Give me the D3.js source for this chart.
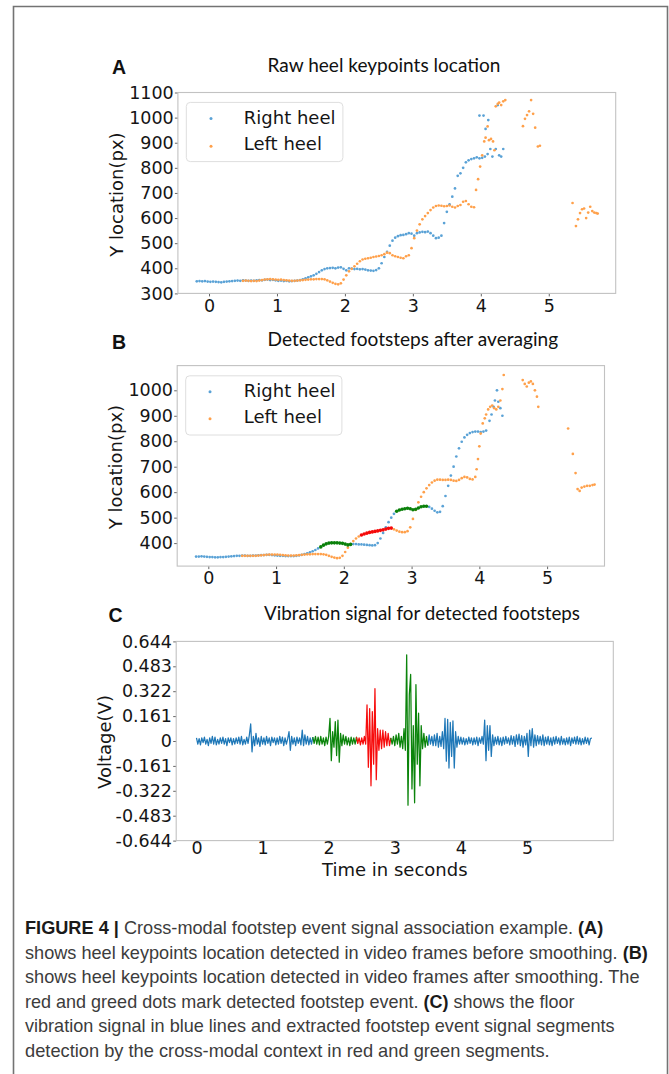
<!DOCTYPE html>
<html><head><meta charset="utf-8">
<script src="https://cdn.jsdelivr.net/npm/d3@7/dist/d3.min.js"></script>
<style>html,body{margin:0;padding:0;background:#fff}svg{display:block}</style>
</head><body>
<svg id="c" width="669" height="1074"></svg>
<script>
// ---------------- DATA ----------------
const heelStep = 0.04;           // seconds between video frames used
const xTicks = [0, 1, 2, 3, 4, 5];
const yTicksA = [300, 400, 500, 600, 700, 800, 900, 1000, 1100];
const yTicksB = [400, 500, 600, 700, 800, 900, 1000];
const yTicksC = [0.644, 0.483, 0.322, 0.161, 0, -0.161, -0.322, -0.483, -0.644];
const yTickLabelsC = ["0.644", "0.483", "0.322", "0.161", "0", "-0.161", "-0.322", "-0.483", "-0.644"];
const seriesNames = ["Right heel", "Left heel"];

// Panel A: raw heel keypoints (Y location, px)
const rightHeelA_t0 = -0.18;
const rightHeelA = [
  348,349,348,349,347,346,347,346,345,344,
  346,347,348,349,350,351,350,352,351,350,
  351,350,352,353,352,354,355,353,354,352,
  350,351,349,350,348,349,350,351,353,356,
  360,364,368,372,378,385,392,397,400,401,
  402,400,403,404,398,392,400,399,397,398,
  396,397,395,392,391,390,393,400,420,445,
  465,490,510,522,528,532,533,536,540,538,
  530,540,543,545,544,546,540,530,520,522,
  530,580,625,655,685,718,768,778,800,822,
  830,835,838,842,838,840,845,855
];
const rightHeelA_extraT = [3.98, 4.04, 4.07, 4.11, 4.14, 4.17, 4.22, 4.25, 4.27, 4.30, 4.33];
const rightHeelA_extraY = [1008, 1008, 955, 990, 875, 845, 875, 1050, 850, 845, 875];

const leftHeelA_t0 = 0.50;
const leftHeelA = [
  350,351,350,349,350,349,351,353,355,356,
  357,356,355,354,355,353,352,351,350,350,
  351,352,353,354,355,356,356,357,357,357,
  356,352,347,342,338,336,340,355,372,388,
  398,408,418,428,435,438,440,442,445,447,
  449,452,456,462,460,452,448,445,442,440,
  448,452,480,520,550,575,595,608,620,632,
  642,648,650,649,647,648,650,645,642,648,
  652,665,668,655,645,643
];
const leftHeelA_extraT = [3.93, 3.96, 3.99, 4.02, 4.05, 4.07, 4.10, 4.12, 4.15, 4.18, 4.20, 4.22, 4.25, 4.27, 4.30, 4.33, 4.36,
  4.62, 4.65, 4.68, 4.71, 4.74, 4.77, 4.80, 4.84, 4.87,
  5.35, 5.40, 5.43, 5.46, 5.49, 5.52, 5.55, 5.58, 5.61, 5.64, 5.67, 5.70, 5.72];
const leftHeelA_extraY = [712, 755, 805, 850, 905, 920, 965, 910, 915, 905, 870, 1045, 1055, 1060, 1050, 1065, 1070,
  966, 995, 1010, 1025, 1070, 1015, 960, 885, 888,
  660, 568, 595, 620, 635, 638, 600, 622, 645, 628, 622, 620, 618];

// Panel B: heel keypoints after averaging
const rightHeelB_t0 = -0.18;
const rightHeelB = [
  347,347,348,347,346,345,345,344,344,345,
  345,346,347,348,349,350,350,351,351,350,
  350,351,351,352,353,353,354,354,353,352,
  351,350,350,349,349,349,349,350,352,354,
  357,360,364,368,373,379,385,392,397,400,
  401,401,401,400,399,396,393,395,396,396,
  395,395,394,393,392,391,392,400,418,440,
  462,482,500,515,525,530,533,535,537,535,
  531,533,538,543,545,545,542,535,527,521,
  523,545,585,625,665,700,740,772,798,815,
  825,832,836,838,838,836,838,842
];
const rightHeelB_extraT = [4.15, 4.18, 4.21, 4.23, 4.26, 4.28, 4.31, 4.34];
const rightHeelB_extraY = [880, 905, 935, 960, 1000, 955, 930, 900];

const leftHeelB_t0 = 0.50;
const leftHeelB = [
  350,350,350,350,350,350,351,352,353,354,
  355,355,355,355,354,353,352,351,351,351,
  352,353,354,355,356,356,357,357,357,357,
  356,354,350,346,343,341,342,350,365,382,
  396,408,418,426,432,436,439,442,444,446,
  448,450,452,455,458,459,454,449,445,443,
  443,447,462,495,530,560,582,600,615,628,
  638,645,649,649,648,648,649,648,645,644,
  648,655,660,658,652,650,660
];
const leftHeelB_extraT = [3.96, 3.98, 4.00, 4.02, 4.05, 4.08, 4.10, 4.13, 4.16, 4.19, 4.22, 4.25, 4.28, 4.31, 4.34, 4.36,
  4.64, 4.67, 4.70, 4.73, 4.76, 4.79, 4.82, 4.85, 4.87,
  5.31, 5.38, 5.42, 5.45, 5.48, 5.51, 5.55, 5.59, 5.63, 5.67, 5.70];
const leftHeelB_extraY = [690, 730, 780, 830, 870, 890, 905, 925, 935, 940, 930, 925, 935, 960, 1005, 1060,
  1040, 1025, 1015, 1030, 1035, 1025, 1000, 975, 935,
  850, 750, 675, 612, 605, 618, 622, 625, 625, 628, 630];

// Detected footsteps (seconds) in the video
const footstepsRight = [[1.64, 2.10], [2.76, 3.24]];
const footstepsLeft = [[2.24, 2.70]];

// Panel C: floor vibration signal (V)
const vibStep = 0.02;
const vibration = [
  0.02,-0.02,0.015,-0.025,0.02,-0.01,0.025,-0.02,0.01,-0.03,
  0.02,-0.015,0.03,-0.02,0.025,-0.025,0.01,-0.02,0.02,-0.015,
  0.025,-0.02,0.015,-0.03,0.02,-0.01,0.02,-0.025,0.015,-0.02,
  0.02,-0.015,0.025,-0.02,0.03,-0.025,0.01,-0.02,0.025,-0.015,
  0.04,0.11,-0.07,0.03,-0.03,0.05,-0.02,0.02,-0.035,0.03,
  -0.02,0.02,-0.025,0.03,-0.015,0.02,-0.03,0.025,-0.01,0.02,
  -0.025,0.02,-0.02,0.03,-0.015,0.025,-0.03,0.02,-0.02,0.015,
  0.06,-0.06,0.03,-0.02,0.02,-0.03,0.025,-0.015,0.02,-0.025,
  0.07,-0.03,0.04,-0.02,0.03,-0.025,0.02,-0.02,0.025,-0.015,
  0.03,-0.02,0.025,-0.025,0.03,-0.02,0.02,-0.03,0.025,-0.02,
  0.03,0.146,-0.127,0.06,-0.04,0.125,-0.094,0.135,-0.137,0.05,
  -0.03,0.04,-0.02,0.03,-0.025,0.02,-0.03,0.025,-0.02,0.02,
  -0.02,0.025,-0.015,0.02,-0.025,0.02,-0.02,0.03,-0.02,0.233,
  -0.17,0.21,-0.29,0.19,-0.15,0.338,-0.25,0.08,-0.06,0.07,
  -0.05,0.07,-0.04,0.06,-0.03,0.05,-0.03,0.02,-0.02,0.03,
  -0.03,0.04,-0.02,0.05,-0.04,0.03,-0.05,0.08,-0.06,0.557,
  -0.415,0.3,0.43,-0.31,0.1,-0.40,0.365,-0.15,0.18,-0.29,
  0.1,-0.05,0.05,-0.04,0.03,-0.03,0.04,-0.02,0.03,-0.03,
  0.04,-0.03,0.05,-0.04,0.03,-0.035,0.06,-0.05,0.146,-0.13,
  0.14,-0.175,0.12,-0.1,0.13,-0.175,0.06,-0.04,0.03,-0.02,
  0.025,-0.02,0.02,-0.025,0.015,-0.02,0.025,-0.015,0.02,-0.025,
  0.02,-0.02,0.025,-0.03,0.02,-0.015,0.03,-0.02,0.135,-0.127,
  0.1,-0.06,0.1,-0.1,0.04,-0.03,0.025,-0.02,0.03,-0.025,
  0.02,-0.03,0.025,-0.02,0.03,-0.015,0.02,-0.025,0.035,-0.02,
  0.03,-0.035,0.04,-0.02,0.045,-0.03,0.035,-0.04,0.03,-0.025,
  0.05,-0.1,0.07,-0.03,0.08,-0.04,0.04,-0.03,0.035,-0.02,
  0.03,-0.025,0.04,-0.03,0.025,-0.02,0.03,-0.025,0.02,-0.03,
  0.025,-0.02,0.03,-0.015,0.02,-0.025,0.03,-0.02,0.015,-0.025,
  0.02,-0.02,0.025,-0.03,0.02,-0.015,0.025,-0.02,0.03,-0.02,
  0.02,-0.025,0.015,-0.02,0.025,-0.015,0.02,-0.025,0.015,0.02
];
// footstep event segments in the vibration signal (seconds) and which foot
const vibStepSegments = [[1.76, 2.43], [2.43, 2.94], [2.94, 3.50]];
const vibStepFoot = ["right", "left", "right"];

const titles = ["Raw heel keypoints location", "Detected footsteps after averaging", "Vibration signal for detected footsteps"];
const panelLetters = ["A", "B", "C"];
const axisLabels = { yAB: "Y location(px)", yC: "Voltage(V)", xC: "Time in seconds" };
const captionLines = [
  [["FIGURE 4 | ", true], ["Cross-modal footstep event signal association example. ", false], ["(A)", true]],
  [["shows heel keypoints location detected in video frames before smoothing. ", false], ["(B)", true]],
  [["shows heel keypoints location detected in video frames after smoothing. The", false]],
  [["red and greed dots mark detected footstep event. ", false], ["(C)", true], [" shows the floor", false]],
  [["vibration signal in blue lines and extracted footstep event signal segments", false]],
  [["detection by the cross-modal context in red and green segments.", false]]
];

// ---------------- DRAWING ----------------
const svg = d3.select("#c");
const COL = { right: "#5aa2d6", left: "#ffa04a", rightStep: "#0a800a", leftStep: "#f50a0a",
              sig: "#1f78b8", green: "#0b840b", red: "#f70d0d" };
const tickFont = "'DejaVu Sans', sans-serif";

// outer figure frame
svg.append("path").attr("d", "M13.5,1080 V6.5 H667.5 V1080")
  .attr("fill", "none").attr("stroke", "#737373").attr("stroke-width", 1.6);

function dense(t0, vals) { return vals.map((v, i) => ({ t: t0 + i * heelStep, v })).filter(d => d.v != null); }
function extra(ts, vs) { return ts.map((t, i) => ({ t, v: vs[i] })); }
function inAny(t, ranges) { return ranges.some(r => t >= r[0] - 1e-6 && t <= r[1] + 1e-6); }

function styleAxis(g) {
  g.select(".domain").remove();
  g.selectAll(".tick line").attr("stroke", "#555").attr("stroke-width", 0.9);
  g.selectAll(".tick text").attr("font-family", tickFont).attr("font-size", 17.5).attr("fill", "#151515");
}

function frameAndAxes(o) {
  const x = d3.scaleLinear().domain(o.xDomain).range([o.left, o.right]);
  const y = d3.scaleLinear().domain(o.yDomain).range([o.bottom, o.top]);
  const g = svg.append("g");
  const ay = g.append("g").attr("transform", `translate(${o.left},0)`)
    .call(d3.axisLeft(y).tickValues(o.yTicks).tickSize(3).tickPadding(1.2)
      .tickFormat((d, i) => o.yLabels ? o.yLabels[i] : d3.format("d")(d)));
  styleAxis(ay);
  const ax = g.append("g").attr("transform", `translate(0,${o.bottom})`)
    .call(d3.axisBottom(x).tickValues(xTicks).tickSize(3).tickPadding(o.xPad).tickFormat(d3.format("d")));
  styleAxis(ax);
  g.append("rect").attr("x", o.left).attr("y", o.top).attr("width", o.right - o.left).attr("height", o.bottom - o.top)
    .attr("fill", "none").attr("stroke", "#c2c2c2").attr("stroke-width", 1.1);
  return { x, y, g };
}

function title(i, left, width, baseline) {
  const t = svg.append("text").attr("x", left).attr("y", baseline).attr("font-family", "Lato, 'Open Sans', sans-serif")
    .attr("font-size", 19).attr("fill", "#111").text(titles[i]);
  const w = t.node().getComputedTextLength();
  t.attr("font-size", 19 * width / w);
  svg.append("text").attr("x", left - 155.5).attr("y", baseline + 2.2).attr("font-family", "'Liberation Sans', Arial, sans-serif")
    .attr("font-weight", "bold").attr("font-size", 19.5).attr("fill", "#111").text(panelLetters[i]);
}

function ylabel(text, cx, cy) {
  svg.append("text").attr("transform", `translate(${cx},${cy}) rotate(-90)`).attr("text-anchor", "middle")
    .attr("dominant-baseline", "central").attr("font-family", tickFont).attr("font-size", 18).attr("fill", "#151515").text(text);
}

function legend(box, mk, tx) {
  svg.append("rect").attr("x", box[0]).attr("y", box[1]).attr("width", box[2]).attr("height", box[3]).attr("rx", 4)
    .attr("fill", "#fff").attr("fill-opacity", 0.85).attr("stroke", "#dedede").attr("stroke-width", 1);
  [COL.right, COL.left].forEach((c, i) => {
    svg.append("circle").attr("cx", mk[0]).attr("cy", mk[1 + i]).attr("r", 1.5).attr("fill", c);
    svg.append("text").attr("x", tx[0]).attr("y", tx[1 + i]).attr("font-family", tickFont).attr("font-size", 18)
      .attr("fill", "#151515").text(seriesNames[i]);
  });
}

function scatter(g, x, y, pts, color, r) {
  g.append("g").selectAll("circle").data(pts).join("circle")
    .attr("cx", d => x(d.t)).attr("cy", d => y(d.v)).attr("r", r).attr("fill", color);
}

// ----- Panel A -----
{
  const o = { left: 177.9, right: 615.7, top: 92.5, bottom: 293.4, xDomain: [-0.458, 5.985], yDomain: [300, 1100], yTicks: yTicksA, xPad: 3.2 };
  const { x, y, g } = frameAndAxes(o);
  const rA = dense(rightHeelA_t0, rightHeelA).concat(extra(rightHeelA_extraT, rightHeelA_extraY));
  const lA = dense(leftHeelA_t0, leftHeelA).concat(extra(leftHeelA_extraT, leftHeelA_extraY));
  scatter(g, x, y, rA, COL.right, 1.35);
  scatter(g, x, y, lA, COL.left, 1.35);
  title(0, 267.5, 233, 72);
  ylabel(axisLabels.yAB, 116.4, 194.5);
  legend([186.3, 102.4, 156.6, 59.2], [211, 118.6, 146.3], [243.8, 123.7, 150.4]);
}

// ----- Panel B -----
{
  const o = { left: 177.2, right: 604.5, top: 365.6, bottom: 566.1, xDomain: [-0.459, 5.847], yDomain: [309.7, 1097], yTicks: yTicksB, xPad: 2.4 };
  const { x, y, g } = frameAndAxes(o);
  const rB = dense(rightHeelB_t0, rightHeelB);
  const lB = dense(leftHeelB_t0, leftHeelB);
  const rBx = extra(rightHeelB_extraT, rightHeelB_extraY);
  const lBx = extra(leftHeelB_extraT, leftHeelB_extraY);
  scatter(g, x, y, rB.filter(d => !inAny(d.t, footstepsRight)).concat(rBx), COL.right, 1.35);
  scatter(g, x, y, lB.filter(d => !inAny(d.t, footstepsLeft)).concat(lBx), COL.left, 1.35);
  scatter(g, x, y, rB.filter(d => inAny(d.t, footstepsRight)), COL.rightStep, 1.8);
  scatter(g, x, y, lB.filter(d => inAny(d.t, footstepsLeft)), COL.leftStep, 1.8);
  title(1, 267.5, 290.7, 346.4);
  ylabel(axisLabels.yAB, 115.4, 467);
  legend([185.7, 375.8, 156.2, 59.2], [210, 391.7, 418.7], [243.8, 397.1, 423.1]);
}

// ----- Panel C -----
{
  const o = { left: 176.2, right: 613.3, top: 641.4, bottom: 840.6, xDomain: [-0.307, 6.306], yDomain: [-0.644, 0.644],
              yTicks: yTicksC, yLabels: yTickLabelsC, xPad: -2 };
  const { x, y, g } = frameAndAxes(o);
  const pts = vibration.map((v, i) => ({ t: i * vibStep, v }));
  const line = d3.line().x(d => x(d.t)).y(d => y(d.v));
  const idx = t => Math.round(t / vibStep);
  // plain signal outside footstep segments
  const firstStep = vibStepSegments[0][0], lastStep = vibStepSegments[vibStepSegments.length - 1][1];
  const plain = [[0, idx(firstStep)], [idx(lastStep), pts.length - 1]];
  plain.forEach(([a, b]) => g.append("path").attr("d", line(pts.slice(a, b + 1))).attr("fill", "none")
    .attr("stroke", COL.sig).attr("stroke-width", 1.25).attr("stroke-linejoin", "round"));
  vibStepSegments.forEach((s, k) => {
    const a = Math.floor(s[0] / vibStep + 1e-6), b = Math.ceil(s[1] / vibStep - 1e-6);
    g.append("path").attr("d", line(pts.slice(a, b + 1))).attr("fill", "none")
      .attr("stroke", vibStepFoot[k] === "right" ? COL.green : COL.red).attr("stroke-width", 1.25).attr("stroke-linejoin", "round");
  });
  title(2, 264.1, 316, 619.8);
  ylabel(axisLabels.yC, 104.2, 742);
  svg.append("text").attr("x", 394.8).attr("y", 875.5).attr("text-anchor", "middle").attr("font-family", tickFont)
    .attr("font-size", 18).attr("fill", "#151515").text(axisLabels.xC);
}

// ----- Caption -----
{
  const x0 = 25;
  const rightEdges = [603.5, 648.3, 640, 575, 615, 550];
  const baselines = [934, 958.5, 983, 1007.5, 1032, 1056.5];
  captionLines.forEach((parts, i) => {
    const t = svg.append("text").attr("font-family", "'Liberation Sans', Arial, sans-serif").attr("font-size", 17.5).attr("fill", "#3c3c3c");
    parts.forEach(([s, b]) => t.append("tspan").attr("font-weight", b ? "bold" : "normal").attr("fill", b ? "#1a1a1a" : "#3c3c3c").text(s));
    const w = t.node().getComputedTextLength();
    const sx = (rightEdges[i] - x0) / w;
    t.attr("transform", `translate(${x0},${baselines[i]}) scale(${sx},1)`);
  });
}
</script>
</body></html>
